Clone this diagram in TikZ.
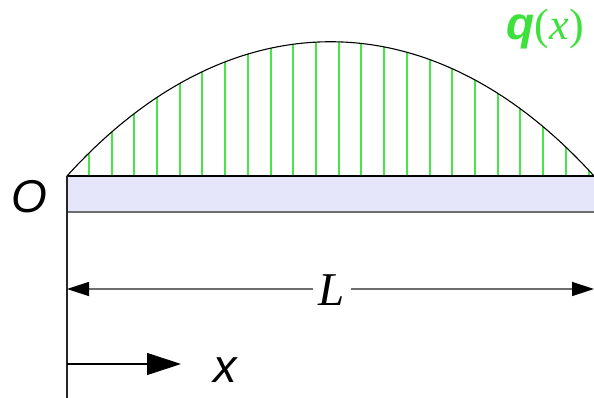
\documentclass[tikz,border=0pt]{standalone}
\usepackage{fontspec}
\setmainfont{Liberation Serif}
\newfontfamily\lsans{Liberation Sans}
\newfontfamily\lserif{Liberation Serif}
\usetikzlibrary{arrows.meta}
\definecolor{beamfill}{RGB}{230,230,250}
\definecolor{loadgreen}{RGB}{60,225,60}
\definecolor{linegreen}{RGB}{70,230,70}
\definecolor{dimgray}{RGB}{110,110,110}
\tikzset{
  load/.style={linegreen, line width=2pt},
  curve/.style={black, line width=1.1pt},
  dimline/.style={dimgray, line width=1.5pt, -{Triangle[length=22pt,width=14pt,color=black,fill=black]}},
  axisarrow/.style={black, line width=1.1pt, -{Triangle[length=34pt,width=22pt]}},
  lbl/.style={inner sep=0pt, anchor=base}
}
\begin{document}
\begin{tikzpicture}[x=1pt,y=-1pt]
\useasboundingbox (0,0) rectangle (594,398);
% beam
\coordinate (A) at (67,176);
\coordinate (B) at (594,176);
\fill[beamfill] (67,176) rectangle (594,212);
\draw[dimgray, line width=1.5pt] (67,212) -- (594,212);
% distributed load
\begin{scope}
  \clip (A) .. controls (229,-3) and (432,-3) .. (B) -- cycle;
  \foreach \k in {0,...,22} {
    \pgfmathtruncatemacro{\xx}{89.3+22.72*\k}
    \draw[load] (\xx,176) -- (\xx,20);
  }
\end{scope}
\draw[curve] (A) .. controls (229,-3) and (432,-3) .. (B);
\draw[black, line width=2.4pt] (A) -- (B);
% left reference line
\coordinate (Bot) at (67,398);
\draw[black!85, line width=1.3pt] (A) -- (Bot);
% dimension L
\coordinate (D1) at (67,289);
\coordinate (D2) at (594,289);
\node[lbl, font=\lserif\itshape\fontsize{47}{50}\selectfont, fill=white, inner xsep=6pt] (L) at (332,305) {L};
\draw[dimline] (L.west |- D1) -- (D1);
\draw[dimline] (L.east |- D2) -- (D2);
% x axis arrow
\coordinate (X0) at (67,364);
\coordinate (X1) at (181,364);
\draw[axisarrow] (X0) -- (X1);
\node[lbl, font=\lsans\itshape\fontsize{47}{50}\selectfont] (xl) at (225,382) {x};
% O
\node[lbl, font=\lsans\itshape\fontsize{46}{50}\selectfont] (O) at (29,212) {O};
% q(x)
\node[lbl, anchor=base east, text=loadgreen] (q) at (584,40)
  {{\lsans\bfseries\itshape\fontsize{46}{50}\selectfont q}{\lserif\fontsize{44}{48}\selectfont(\textit{x})}};
\end{tikzpicture}
\end{document}
